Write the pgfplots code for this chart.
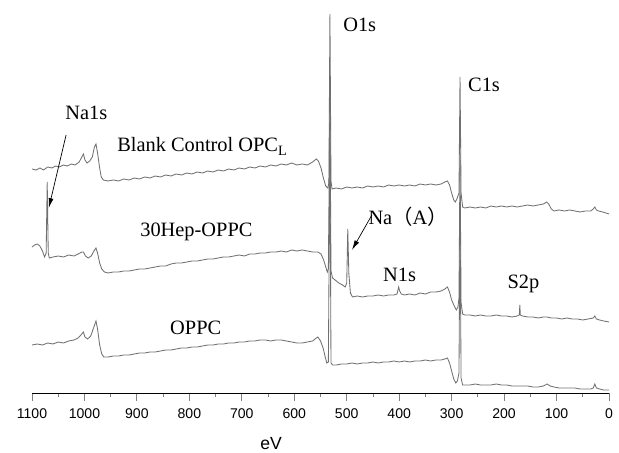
\documentclass[border=0pt]{standalone}
\usepackage{fontspec}
\setmainfont{Liberation Serif}
\setsansfont{Liberation Sans}
\newfontfamily\cjk{Noto Sans CJK SC}
\usepackage{pgfplots}
\pgfplotsset{compat=1.18}
\usepackage{pgfplotstable}
\usetikzlibrary{arrows.meta}

\definecolor{trace}{RGB}{112,112,112}

% three survey spectra, eV vs. counts (arbitrary, offset)
\pgfplotstableread{
ev y
1100 224
1092 223
1085 225
1078 223
1070 226
1062 225
1055 227
1048 226
1040 228
1033 227
1025 229
1018 228
1010 231
1005 236
1002 239
999 233
995 230
990 232
985 236
981 246
978 249
975 240
971 225
968 216
964 213
955 212
945 213
935 212
925 214
915 213
905 215
895 214
885 216
875 215
865 217
855 216
845 218
835 217
825 219
815 218
805 220
795 219
785 221
775 220
765 222
755 221
745 223
735 222
725 224
715 223
705 225
695 224
685 226
675 225
665 227
655 226
645 228
635 227
625 229
615 228
605 230
595 228
585 229
575 228
565 231
558 234
554 232
549 225
544 214
540 207
536 205
534 210
532 379
530 212
528 204
520 205
510 204
500 206
490 205
480 206
470 205
460 207
450 206
440 207
430 206
420 208
410 207
400 208
390 207
380 208
370 207
360 209
350 208
340 209
330 208
320 209
313 211
308 212
304 208
300 200
296 193
293 191
290 194
286 200
284 316
282 200
279 186
275 185
265 186
255 185
245 186
235 185
225 187
215 186
205 187
195 186
185 187
175 186
165 187
155 188
145 187
135 188
125 189
119 191
115 189
110 184
105 182
95 183
85 182
75 183
65 182
55 181
45 182
35 182
30 184
27 186
24 183
20 182
12 181
6 180
0 179
}\blank

\pgfplotstableread{
ev y
1100 146
1095 148
1090 149
1085 147
1080 142
1076 136
1073 140
1071 211
1069 140
1067 135
1060 136
1050 137
1040 136
1030 138
1020 137
1012 139
1005 141
1002 141
998 137
993 135
987 137
982 142
978 145
975 140
971 130
967 124
962 121
955 120
945 121
935 121
925 122
915 122
905 123
895 124
885 124
875 125
865 126
855 127
845 127
835 129
825 130
815 130
805 131
795 132
785 132
775 133
765 134
755 134
745 135
735 136
725 136
715 137
705 138
695 137
685 139
675 139
665 140
655 140
645 141
635 141
625 142
615 141
605 143
595 142
585 143
575 142
565 141
555 141
549 139
544 133
540 126
537 121
535 124
532 300
530 122
527 115
522 113
515 110
508 108
503 106
500 110
498 164
496 120
493 100
489 96
480 97
470 96
460 97
450 97
440 98
430 97
420 98
410 98
404 99
401 106
399 102
396 99
390 98
380 99
370 98
360 100
350 99
340 101
330 101
320 102
313 104
308 106
304 101
300 93
295 87
291 83
288 86
286 95
284 240
282 90
279 79
275 78
265 78
255 77
245 78
235 77
225 77
215 78
205 77
195 77
185 76
175 77
171 78
170 88
169 78
165 77
155 76
145 76
135 75
125 76
118 76
110 75
100 75
90 74
80 75
70 74
60 74
50 73
40 74
30 75
27 77
24 74
18 73
10 72
0 71
}\hep

\pgfplotstableread{
ev y
1100 48
1090 49
1080 48
1070 50
1060 49
1050 51
1040 50
1030 52
1020 53
1012 55
1005 59
1002 61
999 56
994 54
988 57
982 66
978 72
975 64
971 48
967 39
963 36
955 36
945 37
935 37
925 38
915 38
905 39
895 40
885 40
875 41
865 41
855 42
845 43
835 43
825 44
815 45
805 45
795 46
785 46
775 47
765 48
755 48
745 49
735 49
725 50
715 50
705 51
695 51
685 52
675 52
665 53
655 53
645 52
635 53
625 53
615 52
605 51
595 50
585 50
575 51
565 52
558 55
555 56
550 52
545 45
541 36
538 30
535 31
532 250
530 30
527 28
520 28
510 29
500 29
490 30
480 29
470 30
460 30
450 31
440 30
430 31
420 31
410 32
400 31
390 32
380 31
370 32
360 32
350 33
340 32
330 33
320 33
313 34
308 35
304 30
300 22
296 14
292 10
289 12
286 20
284 180
282 15
279 8
275 8
265 8
255 9
245 8
235 8
225 8
215 9
205 8
195 8
185 7
175 7
165 7
155 7
145 6
135 6
125 7
118 9
112 7
105 6
95 5
85 5
75 5
65 5
55 4
45 4
35 4
30 5
27 9
24 5
18 4
10 3
0 3
}\oppc

\begin{document}
\begin{tikzpicture}
\begin{axis}[
  scale only axis,
  width=14.425cm, height=9.825cm,
  x dir=reverse,
  xmin=0, xmax=1100, ymin=0, ymax=393,
  axis x line*=bottom, axis y line=none,
  xtick={0,100,...,1100},
  minor x tick num=1,
  tick align=outside,
  major tick length=0.2cm, minor tick length=0.1cm,
  x axis line style={-, line width=0.6pt},
  xtick style={line width=0.6pt},
  /pgf/number format/assume math mode=true,
  /pgf/number format/1000 sep={},
  xticklabel style={font=\sffamily\fontsize{10}{12}\selectfont, yshift=-0.075cm},
  clip=false,
]
\addplot[trace, line width=0.6pt, mark=none] table[x=ev, y=y] {\blank};
\addplot[trace, line width=0.6pt, mark=none] table[x=ev, y=y] {\hep};
\addplot[trace, line width=0.6pt, mark=none] table[x=ev, y=y] {\oppc};

\begin{scope}[every node/.style={inner sep=0pt, anchor=base west, font=\fontsize{14.5}{16}\selectfont}]
\node at (axis cs:1037,273) {Na1s};
\node at (axis cs:938,241) {Blank Control OPC\textsubscript{L}};
\node at (axis cs:507,361) {O1s};
\node at (axis cs:269,301) {C1s};
\node at (axis cs:894,156) {30Hep-OPPC};
\node at (axis cs:459,168) {Na{\cjk （}A{\cjk ）}};
\node at (axis cs:431,111) {N1s};
\node at (axis cs:194,104) {S2p};
\node at (axis cs:837,58) {OPPC};
\end{scope}

\draw[black, line width=0.5pt, -{Latex[length=7pt,width=3.5pt]}] (axis cs:1035,258) -- (axis cs:1068,185);
\draw[black, line width=0.5pt, -{Latex[length=7pt,width=3.5pt]}] (axis cs:452,178) -- (axis cs:490,143);

\node[anchor=base, inner sep=0pt, font=\sffamily\fontsize{12.5}{14}\selectfont] at (axis cs:644,0) [yshift=-1.425cm] {eV};
\end{axis}
\path (current axis.south west) ++(-0.8cm,-1.5cm);
\path (current axis.north east) ++(0.25cm,0);
\end{tikzpicture}
\end{document}
